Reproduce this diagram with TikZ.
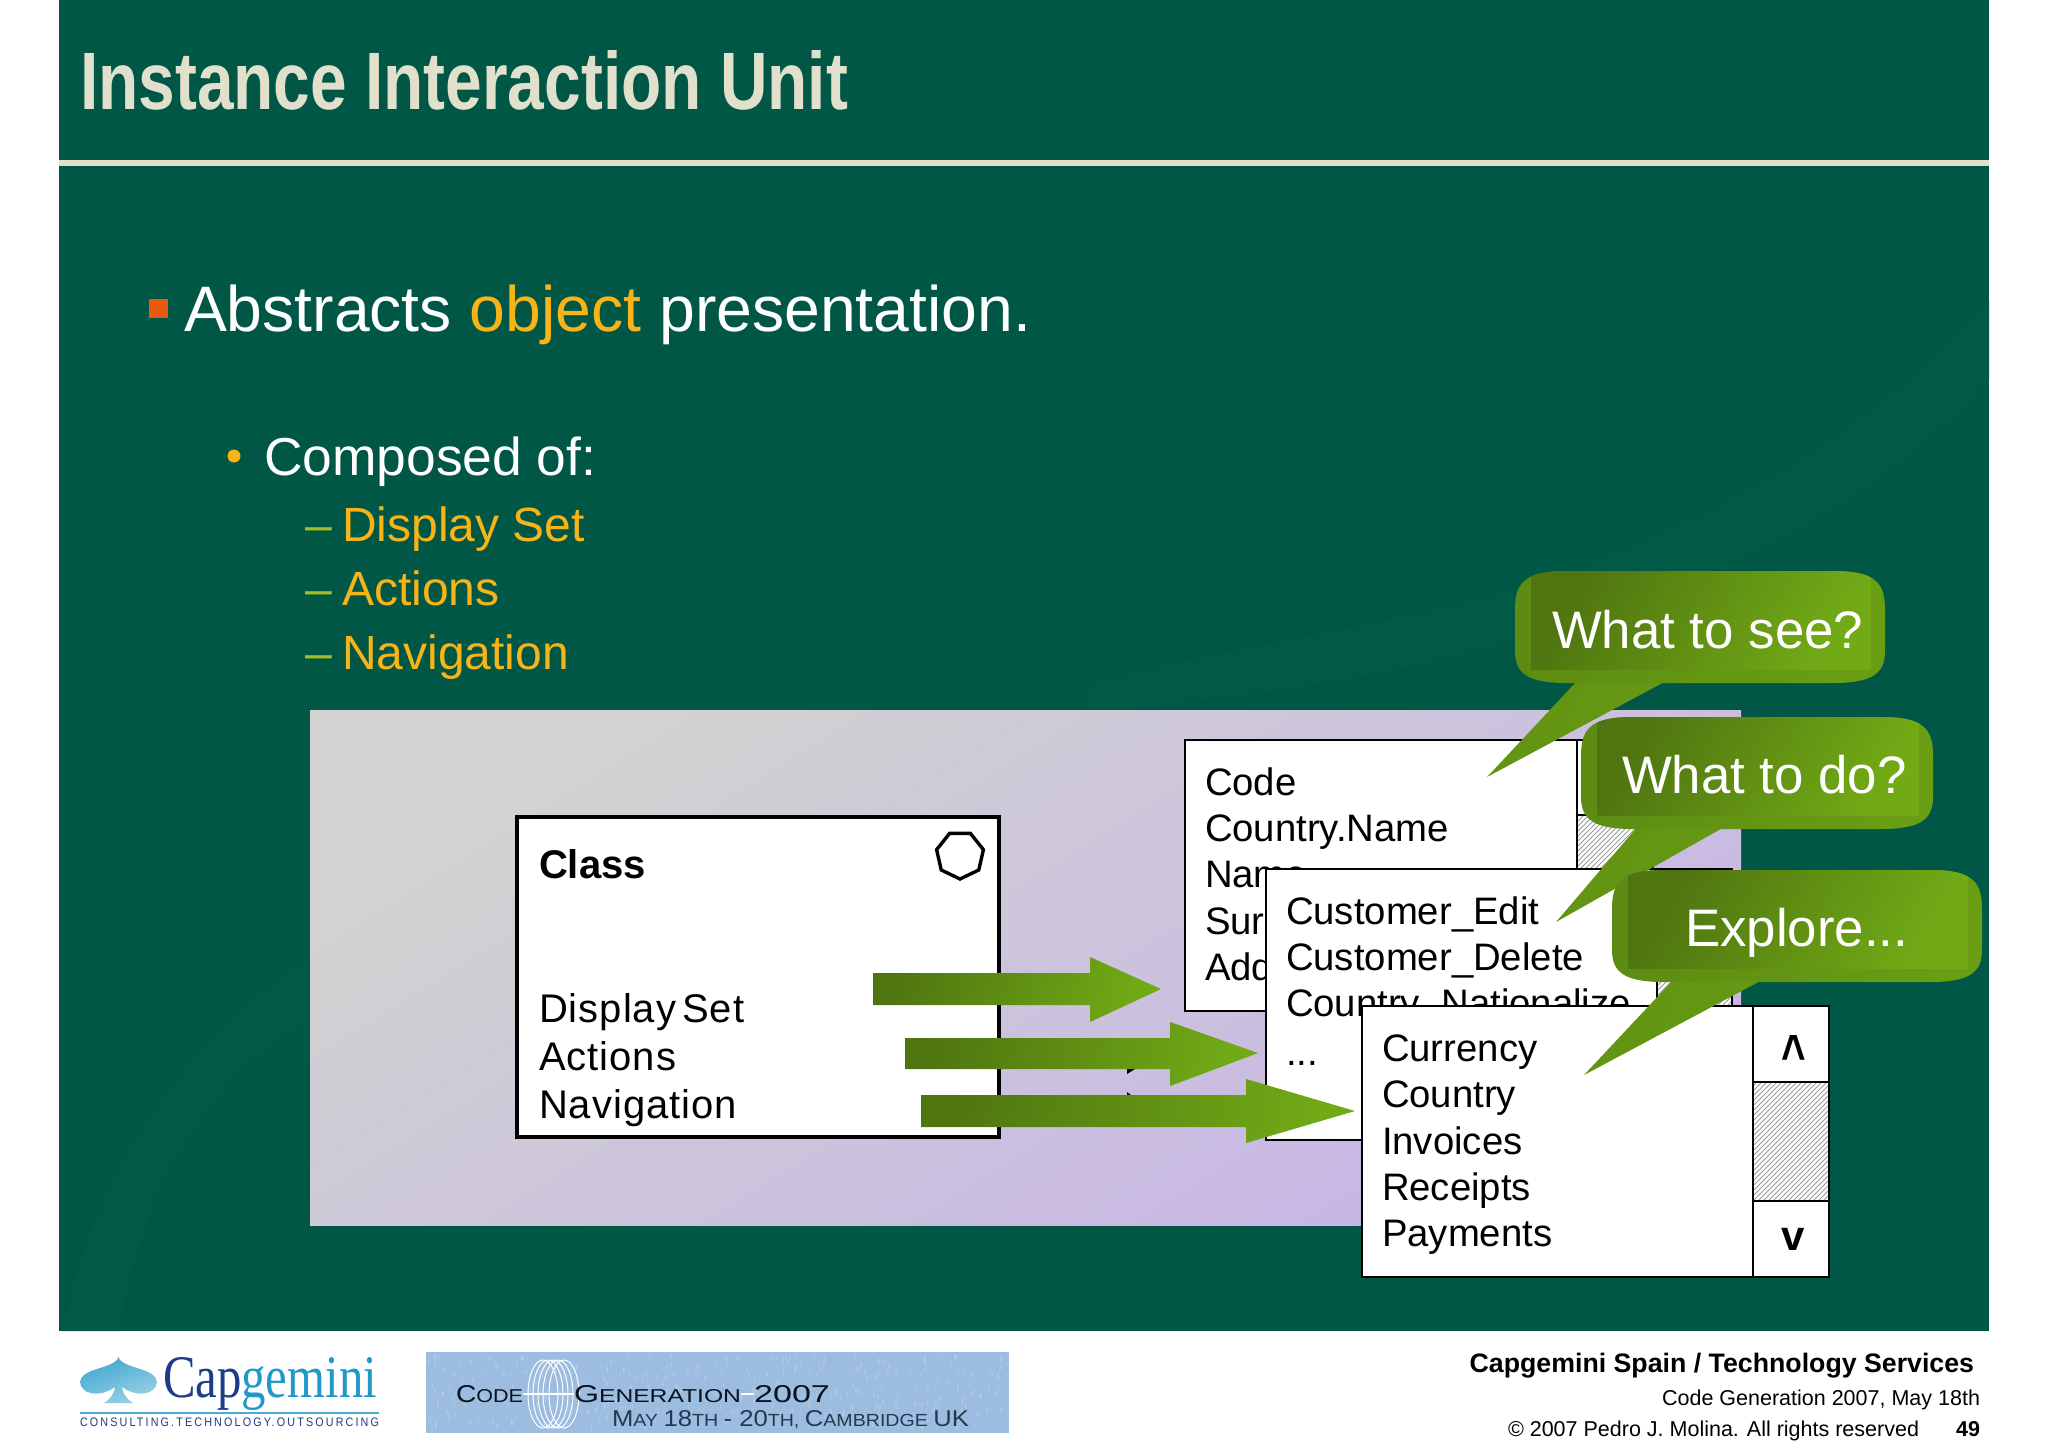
\documentclass[tikz,border=0pt]{standalone}
\usepackage{fontspec}
\usepackage{graphicx}
\setmainfont{Liberation Sans}
\newfontfamily\spacedfont[LetterSpace=20]{Liberation Sans}
\newfontfamily\classfont[LetterSpace=2.5]{Liberation Sans}
\newfontfamily\serifont{Liberation Serif}
\usetikzlibrary{shapes.geometric}
\definecolor{slide}{HTML}{005745}
\definecolor{slidelight}{HTML}{005A45}
\definecolor{titlecol}{HTML}{E0E0CC}
\definecolor{ylw}{HTML}{F7B318}
\definecolor{lime}{HTML}{A4C020}
\definecolor{orng}{HTML}{E85A10}
\definecolor{gdark}{HTML}{4F7510}
\definecolor{gmid}{HTML}{5F9012}
\definecolor{glight}{HTML}{72AA16}
\definecolor{panelA}{HTML}{D2D3D1}
\definecolor{panelB}{HTML}{C7B5E6}
\definecolor{capdark}{HTML}{1E3C8A}
\definecolor{caplight}{HTML}{2098C8}
\definecolor{banner}{HTML}{9DBDE0}
\definecolor{bannerink}{HTML}{24384F}
\definecolor{bannerdark}{HTML}{0A1220}
\tikzset{
  txt/.style={anchor=base west,inner sep=0pt,outer sep=0pt},
  txtr/.style={anchor=base east,inner sep=0pt,outer sep=0pt},
  winline/.style={draw=black,line width=.8pt},
  wintext/.style={txt,font=\fontsize{19.15pt}{19pt}\selectfont,text=black},
  subitem/.style={txt,font=\fontsize{24pt}{24pt}\selectfont,text=ylw},
  dashitem/.style={txt,font=\fontsize{24pt}{24pt}\selectfont,text=lime},
  classtext/.style={txt,font=\fontsize{20pt}{20pt}\classfont,text=black},
  bubbletext/.style={txt,font=\fontsize{26.4pt}{26.4pt}\selectfont,text=white},
  greenarrow/.style={left color=gdark,right color=glight,shading angle=78,draw=none},
  foot/.style={txtr,font=\fontsize{10.75pt}{10.75pt}\selectfont,text=black},
  scrollglyph/.style={anchor=base,inner sep=0pt,font=\fontsize{21pt}{21pt}\bfseries\selectfont}
}
% window: x1 y1 x2(main right) x3(right) y2 upEnd downStart
\newcommand{\winbox}[7]{%
  \fill[white] (#1,#2) rectangle (#4,#5);
  \begin{scope}
    \clip (#3,#6) rectangle (#4,#7);
    \foreach \k in {0,5,...,400}{
      \draw[gray!80,line width=.42pt] ({#3+\k-300},#7) -- ++(300,-300);
    }
  \end{scope}
  \draw[winline] (#1,#2) rectangle (#4,#5);
  \draw[winline] (#3,#2) -- (#3,#5);
  \draw[winline] (#3,#6) -- (#4,#6);
  \draw[winline] (#3,#7) -- (#4,#7);
}
% callout body path: x1 y1 x2 y2
\newcommand{\bubblepath}[4]{%
  ({#1+52},#2) -- ({#3-52},#2) .. controls ({#3-12},#2) and (#3,{#2+10}) .. (#3,{#2+38})
    -- (#3,{#4-32}) .. controls (#3,{#4-10}) and ({#3-12},#4) .. ({#3-52},#4)
    -- ({#1+52},#4) .. controls ({#1+12},#4) and (#1,{#4-10}) .. (#1,{#4-32})
    -- (#1,{#2+38}) .. controls (#1,{#2+10}) and ({#1+12},#2) .. ({#1+52},#2) -- cycle}
% callout: x1 y1 x2 y2 tailLeft tailRight tipx tipy
\newcommand{\bubble}[8]{%
  \path[left color=gmid!85!glight,right color=gmid!70!glight,shading angle=65] (#5,{#4-3}) -- (#7,#8) -- (#6,{#4-3}) -- cycle;
  \path[left color=gmid!85!gdark,right color=gmid!50!glight,shading angle=65] \bubblepath{#1}{#2}{#3}{#4};
  \begin{scope}
    \clip \bubblepath{#1}{#2}{#3}{#4};
    \path[left color=gdark,right color=glight,shading angle=60] ({#1+16},#2) rectangle ({#3-14},{#4-14});
  \end{scope}
}
\begin{document}
\begin{tikzpicture}[x=.5pt,y=-.5pt]
\useasboundingbox (0,0) rectangle (2048,1447);
\fill[white] (0,0) rectangle (2048,1447);
% slide
\fill[slide] (59,0) rectangle (1989,1331);
\fill[slidelight] (1989,300) .. controls (1900,400) and (1780,490) .. (1580,566)
  .. controls (1420,625) and (1250,640) .. (1090,684)
  -- (1090,710) .. controls (1400,690) and (1800,600) .. (1989,380) -- cycle;
\fill[slidelight] (310,955) .. controls (190,1040) and (100,1150) .. (62,1331)
  -- (120,1331) .. controls (140,1180) and (220,1070) .. (310,1020) -- cycle;
\draw[titlecol,line width=2.6pt] (59,163) -- (1989,163);
\node[txt,text=titlecol] (title) at (80,109) {\resizebox{384pt}{29.5pt}{\bfseries\fontsize{40pt}{40pt}\selectfont Instance Interaction Unit}};
% bullets
\fill[orng] (149,299) rectangle (168,318);
\node[txt,text=white,font=\fontsize{32.15pt}{32pt}\selectfont] (l1) at (184,331.5) {Abstracts \textcolor{ylw}{object} presentation.};
\fill[ylw] (234,456) circle (6.5);
\node[txt,text=white,font=\fontsize{26.7pt}{26.7pt}\selectfont] (l2) at (264,475.5) {Composed of:};
\node[dashitem] (d1) at (305,541) {–};
\node[subitem] (l3) at (342,541) {Display Set};
\node[dashitem] (d2) at (305,605) {–};
\node[subitem] (l4) at (342,605) {Actions};
\node[dashitem] (d3) at (305,669) {–};
\node[subitem] (l5) at (342,669) {Navigation};
% panel
\path[left color=panelA,right color=panelB,shading angle=32] (310,710) rectangle (1741,1225);
% class box
\fill[white] (517,817) rectangle (999,1137);
\draw[black,line width=2pt] (517,817) rectangle (999,1137);
\node[txt,text=black,font=\fontsize{20pt}{20pt}\bfseries\selectfont] (cname) at (539,878) {Class};
\node[regular polygon,regular polygon sides=7,shape border rotate=180,draw=black,line width=1.7pt,minimum size=24pt,inner sep=0pt] (cicon) at (960,855) {};
\node[classtext] (c1) at (539,1022) {Display\hspace{-3pt} Set};
\node[classtext] (c2) at (539,1070) {Actions};
\node[classtext] (c3) at (539,1118) {Navigation};
% window 1
\winbox{1185}{740}{1577}{1653}{1011}{815}{937}
\node[wintext] (w11) at (1205,795) {Code};
\node[wintext] (w12) at (1205,841) {Country.Name};
\node[wintext] (w13) at (1205,887) {Name};
\node[wintext] (w14) at (1205,934) {Surname};
\node[wintext] (w15) at (1205,980) {Address};
% window 2
\winbox{1266}{869}{1657}{1732}{1140}{944}{1066}
\node[wintext] (w21) at (1286,924) {Customer\_Edit};
\node[wintext] (w22) at (1286,970) {Customer\_Delete};
\node[wintext] (w23) at (1286,1016) {Country\_Nationalize};
\node[wintext] (w24) at (1286,1065) {...};
% tiny remains of hidden arrows
\fill[black] (1127,1069) -- (1135,1069) -- (1127,1074) -- cycle;
\fill[black] (1127,1095) -- (1131,1095) -- (1127,1092) -- cycle;
% arrows
\path[greenarrow] (873,973) -- (1090,973) -- (1090,957) -- (1161,989) -- (1090,1022) -- (1090,1005) -- (873,1005) -- cycle;
\path[greenarrow] (905,1038) -- (1170,1038) -- (1170,1022) -- (1258,1053) -- (1170,1086) -- (1170,1069) -- (905,1069) -- cycle;
% window 3
\winbox{1362}{1006}{1753}{1829}{1277}{1082}{1201}
\node[wintext] (w31) at (1382,1061) {Currency};
\node[wintext] (w32) at (1382,1107) {Country};
\node[wintext] (w33) at (1382,1154) {Invoices};
\node[wintext] (w34) at (1382,1200) {Receipts};
\node[wintext] (w35) at (1382,1246) {Payments};
\node[scrollglyph] (up) at (1793.5,1074) {\scalebox{1}[1.35]{\textasciicircum}};
\node[scrollglyph] (down) at (1793.5,1250) {v};
\path[greenarrow] (921,1095) -- (1246,1095) -- (1246,1079) -- (1355,1111) -- (1246,1143) -- (1246,1127) -- (921,1127) -- cycle;
% callouts
\bubble{1515}{571}{1885}{683}{1578}{1668}{1487}{777}
\node[bubbletext] (b1) at (1552,648) {What to see?};
\bubble{1581}{717}{1933}{829}{1638}{1726}{1556}{922}
\node[bubbletext] (b2) at (1622,793) {What to do?};
\bubble{1612}{870}{1982}{982}{1674}{1764}{1584}{1075}
\node[bubbletext] (b3) at (1685,946) {Explore...};
% Capgemini logo
\shade[top color=caplight!85,bottom color=caplight!45!white,shading angle=20]
  (118.5,1357) .. controls (120,1364) and (135,1367) .. (146,1371)
  .. controls (155,1375) and (159,1380) .. (156,1386)
  .. controls (151,1396) and (134,1396) .. (122,1387)
  .. controls (123,1395) and (128,1400) .. (133,1403) -- (104,1403)
  .. controls (109,1400) and (114,1395) .. (115,1387)
  .. controls (103,1396) and (86,1396) .. (81,1386)
  .. controls (78,1380) and (82,1375) .. (91,1371)
  .. controls (102,1367) and (117,1364) .. (118.5,1357) -- cycle;
\node[txt] (capname) at (163,1397) {\resizebox{107pt}{20pt}{\serifont\fontsize{28pt}{28pt}\selectfont\textcolor{capdark}{Cap}\textcolor{caplight}{gemini}}};
\draw[caplight!80,line width=.8pt] (80,1413) -- (379,1413);
\node[txt,text=capdark] (captag) at (80,1426) {\resizebox{149.5pt}{4.3pt}{\spacedfont\fontsize{6pt}{6pt}\selectfont CONSULTING.TECHNOLOGY.OUTSOURCING}};
% banner
\fill[banner] (426,1352) rectangle (1009,1433);
\pgfmathsetseed{11}
\foreach \i in {1,...,420}{
  \pgfmathsetmacro\rx{428+rnd*578}
  \pgfmathsetmacro\ry{1354+rnd*72}
  \fill[white,opacity=.13] (\rx,\ry) rectangle ({\rx+1.5},{\ry+5});
}
\foreach \cx in {543,548,553,558,564}{
  \draw[white,line width=.5pt] (\cx,1394) ellipse (15 and 34);
}
\draw[white,line width=.7pt] (523,1394) -- (574,1394);
\draw[white,line width=.7pt] (741,1394) -- (754,1394);
\node[txt,text=bannerdark] (bn1) at (456,1402) {\resizebox{33.5pt}{8.5pt}{\fontsize{17pt}{17pt}\selectfont C\fontsize{13pt}{13pt}\selectfont ODE}};
\node[txt,text=bannerdark] (bn2) at (574,1402) {\resizebox{83.5pt}{8.5pt}{\fontsize{17pt}{17pt}\selectfont G\fontsize{13pt}{13pt}\selectfont ENERATION}};
\node[txt,text=bannerdark] (bn3) at (754,1402) {\resizebox{38pt}{8.5pt}{\fontsize{17pt}{17pt}\selectfont 2007}};
\node[txt,text=bannerink] (bn4) at (612,1426) {\resizebox{178.5pt}{8pt}{\fontsize{17pt}{17pt}\selectfont M\fontsize{13pt}{13pt}\selectfont AY \fontsize{17pt}{17pt}\selectfont 18\fontsize{13pt}{13pt}\selectfont TH \fontsize{17pt}{17pt}\selectfont - 20\fontsize{13pt}{13pt}\selectfont TH, \fontsize{17pt}{17pt}\selectfont C\fontsize{13pt}{13pt}\selectfont AMBRIDGE \fontsize{17pt}{17pt}\selectfont UK}};
% footer text
\node[txtr,text=black,font=\fontsize{13.36pt}{13.4pt}\bfseries\selectfont] (f1) at (1974,1372) {Capgemini Spain / Technology Services};
\node[foot] (f2) at (1980,1405) {Code Generation 2007, May 18th};
\node[foot] (f3) at (1919,1436) {© 2007 Pedro J. Molina. All rights reserved};
\node[txtr,text=black,font=\fontsize{10.75pt}{10.75pt}\bfseries\selectfont] (f4) at (1980,1436) {49};
\end{tikzpicture}
\end{document}
